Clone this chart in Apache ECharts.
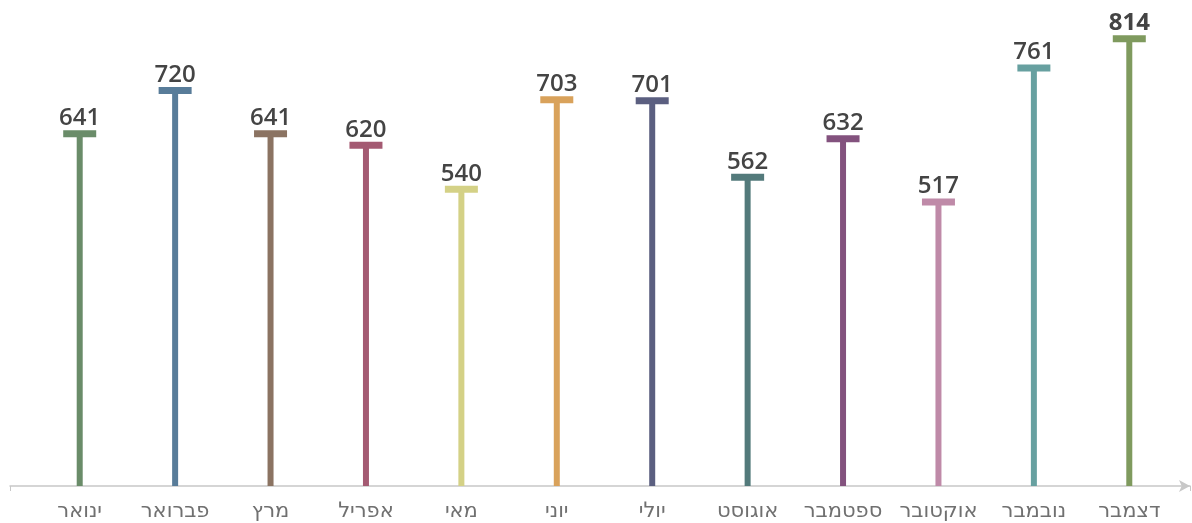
<!DOCTYPE html>
<html><head><meta charset="utf-8">
<script src="https://cdn.jsdelivr.net/npm/echarts@6/dist/echarts.min.js"></script>
<style>html,body{margin:0;padding:0;background:#fff}#c{width:1192px;height:523px}</style>
</head><body><div id="c"></div>
<script>
const categories = ['ינואר','פברואר','מרץ','אפריל','מאי','יוני','יולי','אוגוסט','ספטמבר','אוקטובר','נובמבר','דצמבר'];
const values = [641,720,641,620,540,703,701,562,632,517,761,814];
const colors = ['#6a8c69','#587c99','#8b7362','#a45a72','#d4d186','#d9a25b','#5b5f80','#537a7b','#83527e','#bf8aa8','#67a0a0','#7f9a5e'];

const chart = echarts.init(document.getElementById('c'));
chart.setOption({
  animation:false,
  grid:[{left:32,right:15,top:19,bottom:37},{left:10,right:2,top:19,bottom:37}],
  xAxis:[{type:'category',data:categories,gridIndex:0,
    axisLine:{show:false},axisTick:{show:false},
    axisLabel:{interval:0,color:'#707070',fontSize:21,fontFamily:'"DejaVu Sans",sans-serif',margin:15}},
   {type:'value',gridIndex:1,min:0,max:1,interval:1,
    axisLine:{show:true,lineStyle:{color:'#c8c8c8',width:1.5},symbol:['none','arrow'],symbolSize:[9,11]},
    axisTick:{show:true,length:5,lineStyle:{color:'#c8c8c8'}},axisLabel:{show:false},splitLine:{show:false}}],
  yAxis:[{type:'value',gridIndex:0,min:0,max:850,show:false,splitLine:{show:false}},
   {type:'value',gridIndex:1,min:0,max:1,show:false}],
  series:[
   {type:'bar',xAxisIndex:0,yAxisIndex:0,barWidth:6,
    data:values.map((v,i)=>({value:v,itemStyle:{color:colors[i]}}))},
   {type:'scatter',xAxisIndex:0,yAxisIndex:0,symbol:'rect',symbolSize:[33,7],
    data:values.map((v,i)=>({value:v,itemStyle:{color:colors[i],opacity:1},
      label:{fontWeight: i===11 ? 'bold' : 600}})),
    label:{show:true,position:'top',distance:0,color:'#444',fontSize:24,fontFamily:'"Open Sans","DejaVu Sans",sans-serif'}}
  ]
});
</script></body></html>
